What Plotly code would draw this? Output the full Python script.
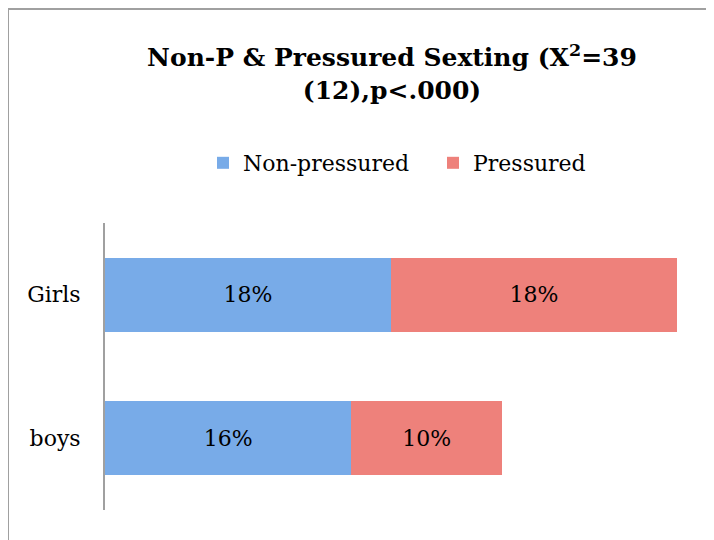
import plotly.graph_objects as go

groups = ["Girls", "boys"]
non_pressured = [18.0, 15.5]
pressured = [18.0, 9.5]
series_names = ["Non-pressured", "Pressured"]

FONT = "DejaVu Serif"
W, H = 706, 532          # page body has an 8px margin in the 714x540 window
L, R, T, B = 97, 14, 215, 30
PW, PH = W - L - R, H - T - B

def px_x(x):
    return (x - L) / PW

def px_y(y):
    return (H - B - y) / PH

fig = go.Figure()
fig.add_trace(go.Bar(
    y=groups, x=non_pressured, name=series_names[0], orientation="h",
    marker=dict(color="#78abe8", line=dict(width=0)),
    texttemplate="%{x:.0f}%", textposition="inside", insidetextanchor="middle",
    textfont=dict(family=FONT, size=22, color="black"),
))
fig.add_trace(go.Bar(
    y=groups, x=pressured, name=series_names[1], orientation="h",
    marker=dict(color="#ee817b", line=dict(width=0)),
    texttemplate="%{x:.0f}%", textposition="inside", insidetextanchor="middle",
    textfont=dict(family=FONT, size=22, color="black"),
))

fig.update_layout(
    width=W, height=H,
    barmode="stack", bargap=0.484,
    paper_bgcolor="white", plot_bgcolor="white",
    margin=dict(l=L, r=R, t=T, b=B),
    font=dict(family=FONT, size=22, color="black"),
    title=dict(
        text="<b>Non-P & Pressured Sexting (X<sup>2</sup>=39<br>(12),p<.000)</b>",
        x=384 / W, xanchor="center", y=1 - 58 / H, yanchor="middle",
        font=dict(family=FONT, size=25, color="black"),
    ),
    legend=dict(
        orientation="h", x=px_x(195), xanchor="left", y=px_y(155), yanchor="middle",
        font=dict(family=FONT, size=22), traceorder="normal", entrywidth=185,
    ),
    xaxis=dict(range=[0, PW / (286 / 18)], visible=False, fixedrange=True),
    yaxis=dict(
        autorange="reversed", showline=True, linecolor="#a0a0a0", linewidth=2,
        ticks="", showgrid=False, zeroline=False, ticklabelstandoff=18,
        tickfont=dict(family=FONT, size=22),
    ),
    shapes=[
        dict(type="line", xref="paper", yref="paper",
             x0=px_x(0), x1=1.1, y0=px_y(1), y1=px_y(1),
             line=dict(color="#a0a0a0", width=2)),
        dict(type="line", xref="paper", yref="paper",
             x0=px_x(0), x1=px_x(0), y0=px_y(1), y1=-0.2,
             line=dict(color="#a0a0a0", width=2)),
    ],
)

fig.write_html("out.html")
